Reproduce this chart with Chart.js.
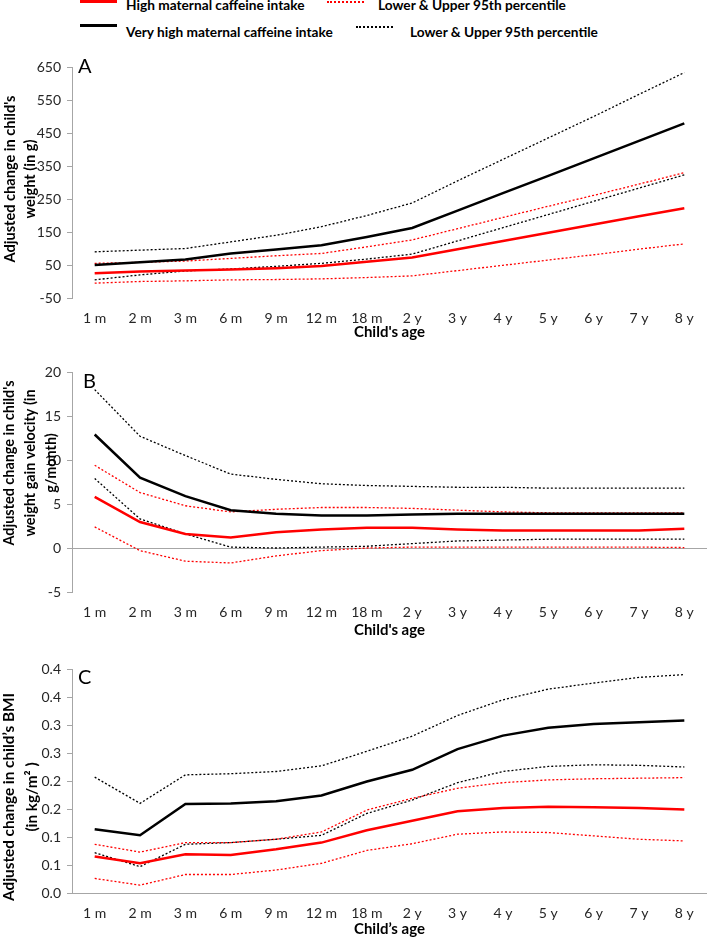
<!DOCTYPE html>
<html lang="en">
<head>
<meta charset="UTF-8">
<title>Maternal caffeine intake and child growth</title>
<script src="https://cdn.jsdelivr.net/npm/chart.js"></script>
<style>
  body { margin: 0; background: #fff; font-family: Lato, sans-serif; }
  #page { position: relative; width: 708px; height: 938px; overflow: hidden; }
  canvas { position: absolute; left: 0; }
  .key-line { position: absolute; height: 3px; width: 37px; left: 80px; }
  .key-dots { position: absolute; height: 0; width: 37px; border-top: 2px dotted; }
  .key-text { position: absolute; font-weight: bold; font-size: 13.7px; line-height: 1; white-space: nowrap; color: #000; }
</style>
</head>
<body>
<div id="page">
  <div class="key-line" style="top:0; background:#ff0000;"></div>
  <div class="key-text" style="left:126px; top:-2px;">High maternal caffeine intake</div>
  <div class="key-dots" style="left:327px; top:1px; border-color:#ff0000;"></div>
  <div class="key-text" style="left:378px; top:-2px;">Lower &amp; Upper 95th percentile</div>
  <div class="key-line" style="top:24px; background:#000;"></div>
  <div class="key-text" style="left:126px; top:25px;">Very high maternal caffeine intake</div>
  <div class="key-dots" style="left:356px; top:26px; border-color:#000;"></div>
  <div class="key-text" style="left:410px; top:25px;">Lower &amp; Upper 95th percentile</div>

  <canvas id="chartA" width="708" height="300" style="top:45px"></canvas>
  <canvas id="chartB" width="708" height="292" style="top:350px"></canvas>
  <canvas id="chartC" width="708" height="291" style="top:647px"></canvas>
</div>

<script>
  const ages = ['1 m', '2 m', '3 m', '6 m', '9 m', '12 m', '18 m', '2 y', '3 y', '4 y', '5 y', '6 y', '7 y', '8 y'];

  // A: weight (g)
  const weightHigh    = [25, 30, 33, 36, 40, 47, 60, 73, 98, 123, 148, 173, 198, 222];
  const weightHighLo  = [-5, 0, 2, 5, 6, 8, 12, 17, 33, 49, 65, 81, 98, 114];
  const weightHighUp  = [55, 58, 62, 70, 78, 85, 105, 126, 160, 194, 228, 261, 295, 330];
  const weightVHigh   = [50, 58, 67, 85, 97, 110, 135, 162, 215, 268, 320, 373, 426, 479];
  const weightVHighLo = [5, 20, 32, 38, 46, 55, 68, 83, 123, 163, 203, 243, 283, 323];
  const weightVHighUp = [90, 95, 100, 120, 140, 166, 200, 238, 305, 370, 435, 500, 567, 633];

  // B: weight gain velocity (g/month)
  const velHigh    = [5.8, 2.95, 1.6, 1.2, 1.8, 2.1, 2.3, 2.3, 2.1, 2.0, 2.0, 2.0, 2.0, 2.2];
  const velHighLo  = [2.4, -0.3, -1.5, -1.7, -0.9, -0.3, 0.0, 0.1, 0.1, 0.1, 0.1, 0.1, 0.1, 0.05];
  const velHighUp  = [9.4, 6.3, 4.8, 4.1, 4.4, 4.6, 4.6, 4.5, 4.3, 4.1, 4.0, 4.0, 4.0, 4.0];
  const velVHigh   = [12.9, 8.0, 5.9, 4.3, 3.9, 3.7, 3.7, 3.8, 3.9, 3.9, 3.9, 3.9, 3.9, 3.9];
  const velVHighLo = [7.9, 3.3, 1.6, 0.1, 0.0, 0.1, 0.2, 0.5, 0.8, 0.9, 1.0, 1.0, 1.0, 1.0];
  const velVHighUp = [18.0, 12.7, 10.5, 8.4, 7.8, 7.3, 7.1, 7.0, 6.9, 6.9, 6.8, 6.8, 6.8, 6.8];

  // C: BMI (kg/m2)
  const bmiHigh    = [0.065, 0.053, 0.069, 0.068, 0.078, 0.090, 0.112, 0.129, 0.146, 0.152, 0.154, 0.153, 0.152, 0.149];
  const bmiHighLo  = [0.026, 0.014, 0.033, 0.033, 0.041, 0.053, 0.076, 0.088, 0.105, 0.109, 0.108, 0.102, 0.096, 0.093];
  const bmiHighUp  = [0.087, 0.073, 0.090, 0.090, 0.096, 0.109, 0.148, 0.169, 0.187, 0.197, 0.202, 0.204, 0.205, 0.206];
  const bmiVHigh   = [0.114, 0.103, 0.159, 0.160, 0.164, 0.174, 0.199, 0.220, 0.257, 0.281, 0.295, 0.302, 0.305, 0.308];
  const bmiVHighLo = [0.072, 0.047, 0.087, 0.090, 0.096, 0.103, 0.142, 0.166, 0.197, 0.217, 0.226, 0.229, 0.228, 0.225];
  const bmiVHighUp = [0.207, 0.160, 0.211, 0.213, 0.217, 0.227, 0.253, 0.280, 0.317, 0.345, 0.364, 0.375, 0.385, 0.390];
  // original axis rounds the 0.05 steps to one decimal
  const bmiTickLabels = ['0.0', '0.1', '0.1', '0.2', '0.2', '0.3', '0.3', '0.4', '0.4'];

  const RED = '#ff0000';
  const AXIS = '#a6a6a6';

  // panel letter + rotated (slightly condensed) y title
  const panelText = {
    id: 'panelText',
    afterDraw(chart, args, opts) {
      const ctx = chart.ctx;
      const area = chart.chartArea;
      ctx.save();
      ctx.fillStyle = '#000';
      ctx.font = '20px Lato';
      ctx.textBaseline = 'alphabetic';
      ctx.fillText(opts.letter, area.left + opts.letterDx, area.top + opts.letterDy);
      ctx.font = 'bold 15px Lato';
      ctx.textAlign = 'center';
      ctx.textBaseline = 'middle';
      const squeeze = opts.titleLen / ctx.measureText(opts.title[0]).width;
      opts.title.forEach((line, i) => {
        ctx.save();
        ctx.translate(opts.titleX[i], opts.titleY);
        ctx.rotate(-Math.PI / 2);
        ctx.scale(squeeze, 1);
        ctx.fillText(line, 0, 0);
        ctx.restore();
      });
      ctx.restore();
    }
  };

  function series(values, color, dotted) {
    return {
      data: values,
      borderColor: color,
      borderWidth: dotted ? 1.3 : 2.5,
      borderDash: dotted ? [2, 2] : [],
      pointRadius: 0,
      tension: 0,
      fill: false
    };
  }

  function makeChart(id, cfg) {
    new Chart(document.getElementById(id), {
      type: 'line',
      data: {
        labels: ages,
        datasets: [
          series(cfg.high, RED, false),
          series(cfg.vhigh, '#000', false),
          series(cfg.highLo, RED, true),
          series(cfg.highUp, RED, true),
          series(cfg.vhighLo, '#000', true),
          series(cfg.vhighUp, '#000', true)
        ]
      },
      options: {
        responsive: false,
        animation: false,
        layout: { padding: { top: 22, right: 1, left: 0, bottom: 0 } },
        plugins: {
          legend: { display: false },
          tooltip: { enabled: false },
          panelText: cfg.text
        },
        scales: {
          x: {
            offset: true,
            grid: { display: false },
            border: { display: false },
            ticks: { color: '#262626', font: { family: 'Lato', size: 14 }, padding: 4, autoSkip: false, maxRotation: 0 },
            title: { display: true, text: cfg.xTitle, color: '#000', font: { family: 'Lato', size: 15, weight: 'bold' }, padding: { top: 0, bottom: cfg.xTitlePad } },
            afterFit: s => { s.height = cfg.xHeight; }
          },
          y: {
            min: cfg.min,
            max: cfg.max,
            ticks: {
              stepSize: cfg.step,
              color: '#262626',
              font: { family: 'Lato', size: 14 },
              padding: 6,
              callback: cfg.tickLabel || (v => v)
            },
            grid: {
              color: c => (c.tick && c.tick.value === 0 ? AXIS : 'rgba(0,0,0,0)'),
              tickColor: AXIS,
              tickLength: 5,
              lineWidth: 1
            },
            border: { display: true, color: AXIS, width: 1 },
            afterFit: s => { s.width = 72; }
          }
        }
      },
      plugins: [panelText]
    });
  }

  makeChart('chartA', {
    high: weightHigh, highLo: weightHighLo, highUp: weightHighUp,
    vhigh: weightVHigh, vhighLo: weightVHighLo, vhighUp: weightVHighUp,
    min: -50, max: 650, step: 100,
    xTitle: "Child's age", xTitlePad: 4, xHeight: 47,
    text: { letter: 'A', letterDx: 6, letterDy: 6, title: ["Adjusted change in child's", 'weight (in g)'], titleX: [10, 30], titleY: 134, titleLen: 167 }
  });

  makeChart('chartB', {
    high: velHigh, highLo: velHighLo, highUp: velHighUp,
    vhigh: velVHigh, vhighLo: velVHighLo, vhighUp: velVHighUp,
    min: -5, max: 20, step: 5,
    xTitle: "Child's age", xTitlePad: 3, xHeight: 50,
    text: { letter: 'B', letterDx: 11, letterDy: 16, title: ["Adjusted change in child's", 'weight gain velocity (in', 'g/month)'], titleX: [9, 30, 51], titleY: 113, titleLen: 165 }
  });

  makeChart('chartC', {
    high: bmiHigh, highLo: bmiHighLo, highUp: bmiHighUp,
    vhigh: bmiVHigh, vhighLo: bmiVHighLo, vhighUp: bmiVHighUp,
    min: 0, max: 0.4, step: 0.05,
    tickLabel: (v, i) => bmiTickLabels[i],
    xTitle: 'Child\u2019s age', xTitlePad: 0, xHeight: 45,
    text: { letter: 'C', letterDx: 6, letterDy: 15, title: ['Adjusted change in child\u2019s BMI', '(in kg/m\u00b2 )'], titleX: [9, 32], titleY: 150, titleLen: 208 }
  });
</script>
</body>
</html>
